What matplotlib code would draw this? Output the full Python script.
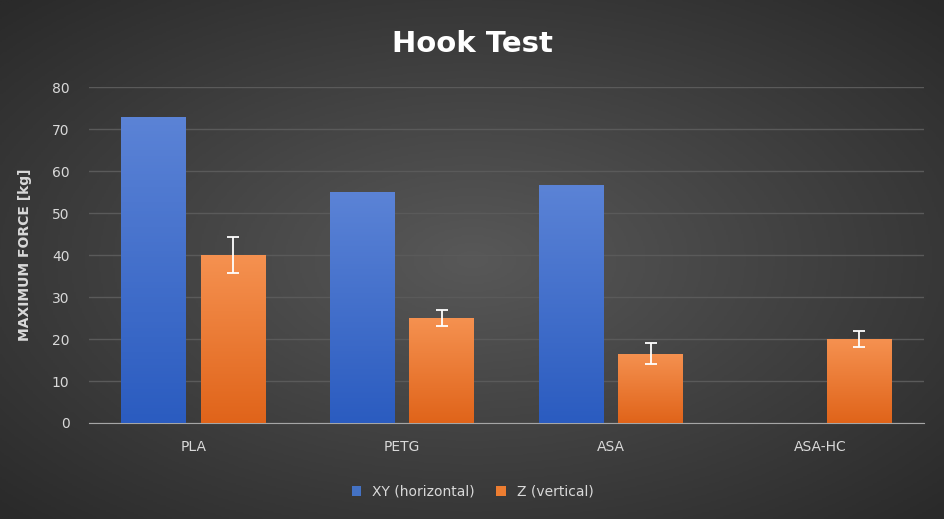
import numpy as np
import matplotlib
matplotlib.use("Agg")
import matplotlib.pyplot as plt
from matplotlib.colors import LinearSegmentedColormap

categories = ["PLA", "PETG", "ASA", "ASA-HC"]
xy_values = [73, 55, 56.8, 0]
z_values = [40, 25, 16.5, 20]
z_errors = [4.2, 2.0, 2.5, 2.0]

fig = plt.figure(figsize=(9.45, 5.19), dpi=100)

# radial background
bg = fig.add_axes([0, 0, 1, 1], zorder=-10)
yy, xx = np.mgrid[-1:1:300j, -1:1:500j]
r = np.sqrt(xx ** 2 + yy ** 2)
bg_cmap = LinearSegmentedColormap.from_list("bg", ["#585858", "#2a2a2a"])
bg.imshow(r, cmap=bg_cmap, aspect="auto", vmin=0, vmax=1.4, extent=(0, 1, 0, 1))
bg.axis("off")

ax = fig.add_axes([0.094, 0.185, 0.884, 0.647])
ax.set_facecolor("none")
x = np.arange(len(categories))
w = 0.31
off = 0.19

blue = LinearSegmentedColormap.from_list("b", ["#2b5cc0", "#5b83d6"])
orange = LinearSegmentedColormap.from_list("o", ["#e0641a", "#f59150"])
grad = np.linspace(0, 1, 100).reshape(-1, 1)

bars_xy = ax.bar(x - off, xy_values, w, color="#4472c4", label="XY (horizontal)", zorder=2)
bars_z = ax.bar(x + off, z_values, w, color="#ed7d31", label="Z (vertical)", zorder=2)
for bars, cmap in ((bars_xy, blue), (bars_z, orange)):
    for b in bars:
        if b.get_height() <= 0:
            continue
        im = ax.imshow(grad, cmap=cmap, aspect="auto", origin="lower", zorder=3,
                       extent=(b.get_x(), b.get_x() + b.get_width(), 0, b.get_height()))
        im.set_clip_path(b)
ax.errorbar(x + off, z_values, yerr=z_errors, fmt="none", ecolor="white",
            elinewidth=1.3, capsize=4, capthick=1.3, zorder=4)

ax.set_xlim(-0.5, 3.5)
ax.set_ylim(0, 80)
ax.set_yticks(range(0, 81, 10))
ax.set_xticks(x)
ax.set_xticklabels(categories)
ax.tick_params(colors="#d9d9d9", labelsize=10, length=0)
ax.tick_params(axis="y", pad=14)
ax.tick_params(axis="x", pad=12)
ax.yaxis.grid(True, color="#5a5a5a", linewidth=1)
ax.set_axisbelow(True)
for s in ["top", "right", "left"]:
    ax.spines[s].set_visible(False)
ax.spines["bottom"].set_color("#a6a6a6")
ax.set_ylabel("MAXIMUM FORCE [kg]", color="#d9d9d9", fontsize=10, fontweight="bold",
              labelpad=14)
fig.text(0.5, 0.9, "Hook Test", color="white", fontsize=21, fontweight="bold", ha="center")
leg = fig.legend(handles=[bars_xy, bars_z], loc="lower center", ncol=2, frameon=False,
                 bbox_to_anchor=(0.5, 0.015), fontsize=10, handlelength=0.7,
                 handleheight=0.7, columnspacing=1.5)
for t in leg.get_texts():
    t.set_color("#d9d9d9")

fig.savefig("out.png", dpi=100)
